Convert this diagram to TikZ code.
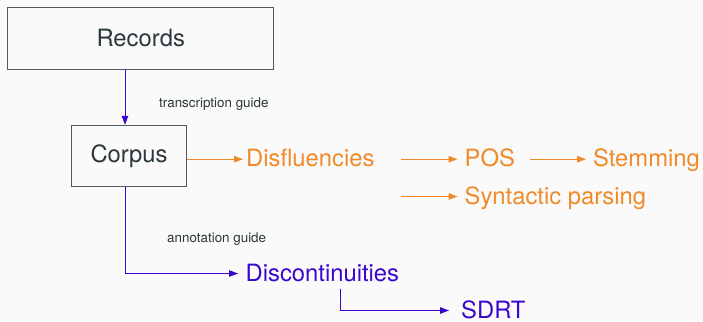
\documentclass[tikz,border=0pt]{standalone}
\usepackage{fontspec}
\setmainfont{TeX Gyre Heros}
\usetikzlibrary{arrows.meta}
\definecolor{bgc}{HTML}{FAFAFA}
\definecolor{inkc}{HTML}{2B373B}
\definecolor{boxc}{HTML}{4F5B5F}
\definecolor{orc}{HTML}{F08A28}
\definecolor{blc}{HTML}{3A06CF}
\tikzset{
  bigtext/.style={font=\fontsize{23.8}{28}\selectfont},
  smalltext/.style={font=\fontsize{13.4}{16}\selectfont, text=inkc, inner sep=0pt, anchor=base west},
  boxnode/.style={draw=boxc, line width=1pt, fill=bgc, text=inkc, bigtext, inner sep=0pt},
  ornode/.style={bigtext, text=orc, inner sep=0pt, text height=18pt, text depth=3pt, anchor=base west},
  blnode/.style={bigtext, text=blc, inner sep=0pt, text height=18pt, text depth=3pt, anchor=base west},
  orarrow/.style={draw=orc, line width=1pt, -{Triangle[length=9pt,width=6.5pt]}},
  blarrow/.style={draw=blc, line width=1pt, -{Triangle[length=9pt,width=6.5pt]}},
}
\begin{document}
\begin{tikzpicture}[x=1pt,y=-1pt]
\fill[bgc] (0,0) rectangle (703,321);
\useasboundingbox (0,0) rectangle (703,321);

\node[boxnode, minimum width=266pt, minimum height=62pt] (rec) at (140.7,38.5) {Records};
\node[boxnode, minimum width=114.6pt, minimum height=61.4pt] (corp) at (129,156) {Corpus};

\node[smalltext] (tg) at (159,107) {transcription guide};
\node[smalltext] (ag) at (167,242.7) {annotation guide};

\node[ornode] (disf) at (246,166.7) {Disfluencies};
\node[ornode] (pos) at (464.5,166.7) {POS};
\node[ornode] (stem) at (593,166.7) {Stemming};
\node[ornode] (synt) at (464.5,204) {Syntactic parsing};
\node[blnode] (disc) at (245.5,281) {Discontinuities};
\node[blnode, text depth=1pt, text height=16pt] (sdrt) at (461,318) {SDRT};

\coordinate (fork) at ([xshift=26pt]disf.east);

\draw[blarrow] ([xshift=-4pt]corp.north |- rec.south) -- ([xshift=-4pt]corp.north);
\draw[orarrow, shorten >=3pt] (corp.east |- disf.west) -- (disf.west);
\draw[orarrow, shorten >=7pt] (fork) -- (pos.west);
\draw[orarrow, shorten >=7pt] ([xshift=15pt]pos.east) -- (stem.west);
\draw[orarrow, shorten >=7pt] (fork |- synt.west) -- (synt.west);
\draw[blarrow, shorten >=7.5pt] ([xshift=-4pt]corp.south) |- (disc.west);
\draw[blarrow, shorten >=12pt] ([xshift=95.2pt,yshift=-4.3pt]disc.south west) |- (sdrt.west);
\end{tikzpicture}
\end{document}
